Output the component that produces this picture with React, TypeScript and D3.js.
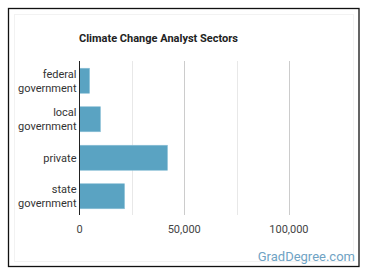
import React from "react";
import * as d3 from "d3";

const categories: string[][] = [
  ["federal", "government"],
  ["local", "government"],
  ["private"],
  ["state", "government"],
];
const values: number[] = [4800, 10000, 42000, 21500];
const gridTicks: number[] = [25000, 50000, 75000, 100000];
const labelTicks: number[] = [0, 50000, 100000];

const W = 370;
const H = 278;
const plot = { left: 79.5, right: 341.3, top: 61, bottom: 215 };

export default function App() {
  const keys = categories.map((c) => c.join(" "));
  const x = d3.scaleLinear().domain([0, 125000]).range([plot.left, plot.right]);
  const y = d3
    .scaleBand<string>()
    .domain(keys)
    .range([plot.top + 0.5, plot.bottom + 0.5])
    .paddingInner(0.35)
    .paddingOuter(0.175);
  const fmt = d3.format(",");
  const font = "Roboto, 'Noto Sans', sans-serif";

  return (
    <svg
      width={W}
      height={H}
      style={{ position: "absolute", left: 0, top: 0, background: "#fff" }}
      fontFamily={font}
    >
      <rect x={8.5} y={8.5} width={350.5} height={258} fill="#fff" stroke="#111" strokeWidth={1.3} />
      <rect x={14.5} y={14.5} width={339} height={247} fill="none" stroke="#f2f2f2" strokeWidth={1} />

      <text x={79} y={41.5} fontSize={11} fontWeight="bold" fill="#222">
        Climate Change Analyst Sectors
      </text>

      {gridTicks.map((t) => (
        <line
          key={t}
          x1={Math.round(x(t)) + 0.5}
          x2={Math.round(x(t)) + 0.5}
          y1={plot.top}
          y2={plot.bottom}
          stroke={t % 50000 === 0 ? "#cccccc" : "#e8e8e8"}
          strokeWidth={1}
        />
      ))}

      {keys.map((k, i) => (
        <rect
          key={k}
          x={x(0)}
          y={y(k)}
          width={x(values[i]) - x(0)}
          height={y.bandwidth()}
          fill="#5aa3c2"
          stroke="#8cc0d7"
          strokeWidth={0.6}
        />
      ))}

      <line x1={plot.left} x2={plot.left} y1={plot.top} y2={plot.bottom} stroke="#222" strokeWidth={1} />

      {keys.map((k, i) => {
        const lines = categories[i];
        const cy = (y(k) as number) + y.bandwidth() / 2;
        const off = (lines.length - 1) * 7;
        return (
          <text key={k} textAnchor="end" fontSize={11} fill="#333">
            {lines.map((ln, j) => (
              <tspan key={j} x={76.5} y={cy - off + j * 14 + 4}>
                {ln}
              </tspan>
            ))}
          </text>
        );
      })}

      {labelTicks.map((t) => (
        <text key={t} x={x(t)} y={233} textAnchor="middle" fontSize={11} fill="#444">
          {fmt(t)}
        </text>
      ))}

      <text x={355} y={260.5} textAnchor="end" fontSize={13} fill="#6fa3c4">
        GradDegree.com
      </text>
    </svg>
  );
}
